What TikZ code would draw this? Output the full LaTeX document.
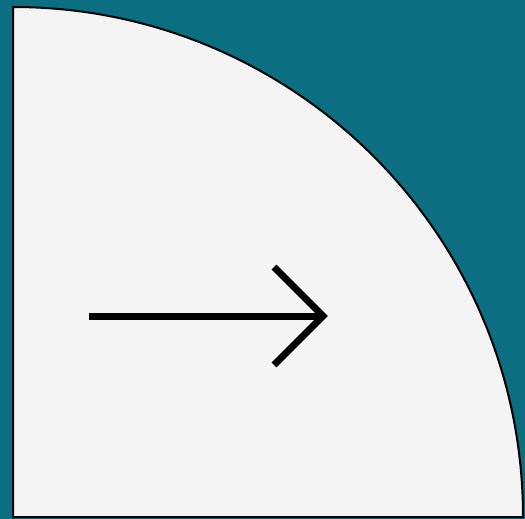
\documentclass[tikz,border=0pt]{standalone}
\definecolor{tealbg}{HTML}{0C6E81}
\definecolor{diskgray}{HTML}{F4F4F4}

\begin{document}
\begin{tikzpicture}
[
	x=1pt,y=-1pt,
	quarter/.style={draw=black,line width=2pt,fill=diskgray},
	arrowline/.style={draw=black,line width=7pt,line join=miter,line cap=butt}
]

	% background
	\fill[tealbg] (0,0) rectangle (525,519);
	\useasboundingbox (0,0) rectangle (525,519);

	% quarter disk
	\coordinate (c) at (13,517);
	\path[quarter] (c) -- (13,7) arc[start angle=90,end angle=0,radius=510pt] -- cycle;

	% arrow
	\coordinate (tail) at (89,316);
	\coordinate (tip) at (323,316);
	\draw[arrowline] (tail) -- (tip);
	\draw[arrowline] (274,267) -- (tip) -- (274,365);

\end{tikzpicture}
\end{document}
